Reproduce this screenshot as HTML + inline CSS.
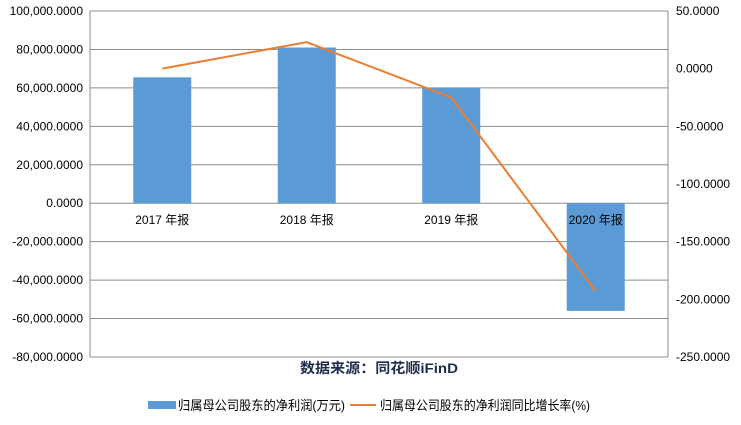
<!DOCTYPE html>
<html><head><meta charset="utf-8"><style>
body{margin:0;background:#fff;width:741px;height:420px;overflow:hidden;font-family:"Liberation Sans","Noto Sans CJK SC",sans-serif;}
</style></head><body>
<svg id="c" width="741" height="420" xmlns="http://www.w3.org/2000/svg"></svg>
<script>
const categories=["2017 年报","2018 年报","2019 年报","2020 年报"];
const profit=[65500,81000,60000,-56000];
const growth=[0,23,-25,-193];
const leftTicks=[100000,80000,60000,40000,20000,0,-20000,-40000,-60000,-80000];
const rightTicks=[50,0,-50,-100,-150,-200,-250];
const svg=document.getElementById('c');
const NS='http://www.w3.org/2000/svg';
const L=90,R=668,T=11,B=357;
const yL=v=>T+(100000-v)/180000*(B-T);
const yR=v=>T+(50-v)/300*(B-T);
const band=(R-L)/categories.length;
const xC=i=>L+band*(i+0.5);
function el(t,a,txt){const e=document.createElementNS(NS,t);for(const k in a)e.setAttribute(k,a[k]);if(txt!==undefined)e.textContent=txt;svg.appendChild(e);return e;}
leftTicks.forEach(v=>{
 const g=el('line',{x1:L,x2:R,y1:yL(v),y2:yL(v),stroke:'#8c8c8c','stroke-width':1});
 
 
 const t=el('text',{x:83,y:yL(v)+4,'text-anchor':'end','font-size':12,fill:'#000'},v.toLocaleString('en-US',{minimumFractionDigits:4}));
 
 
});
el('line',{x1:L,x2:L,y1:T,y2:B,stroke:'#8c8c8c'});
el('line',{x1:R,x2:R,y1:T,y2:B,stroke:'#8c8c8c'});
rightTicks.forEach(v=>{
 const t=el('text',{x:676,y:yR(v)+4,'font-size':12,fill:'#000'},v.toFixed(4));
 
 
});
const bw=58;
profit.forEach((v,i)=>{
 const y0=yL(0),y1=yL(v);
 const r=el('rect',{x:xC(i)-bw/2,y:Math.min(y0,y1),width:bw,height:Math.abs(y1-y0),fill:'#5b9bd5'});
 
 
});
categories.forEach((c,i)=>{
 const t=el('text',{x:xC(i),y:yL(0)+21,'text-anchor':'middle','font-size':12,fill:'#000'},c);
 
 
});
const pts=growth.map((v,i)=>xC(i)+','+yR(v)).join(' ');
const pl=el('polyline',{points:pts,fill:'none',stroke:'#ed7d31','stroke-width':2});


const st=el('text',{x:300,y:373,'font-size':14,'font-weight':'bold',fill:'#1f2d4d',textLength:158,lengthAdjust:'spacingAndGlyphs'},'数据来源：同花顺iFinD');


el('rect',{x:148,y:401,width:28,height:8,fill:'#5b9bd5'});
el('text',{x:178,y:410,'font-size':13,fill:'#000',textLength:167,lengthAdjust:'spacingAndGlyphs'},'归属母公司股东的净利润(万元)');
el('line',{x1:350,x2:376,y1:405,y2:405,stroke:'#ed7d31','stroke-width':2});
el('text',{x:380,y:410,'font-size':13,fill:'#000',textLength:210,lengthAdjust:'spacingAndGlyphs'},'归属母公司股东的净利润同比增长率(%)');
</script>
</body></html>
